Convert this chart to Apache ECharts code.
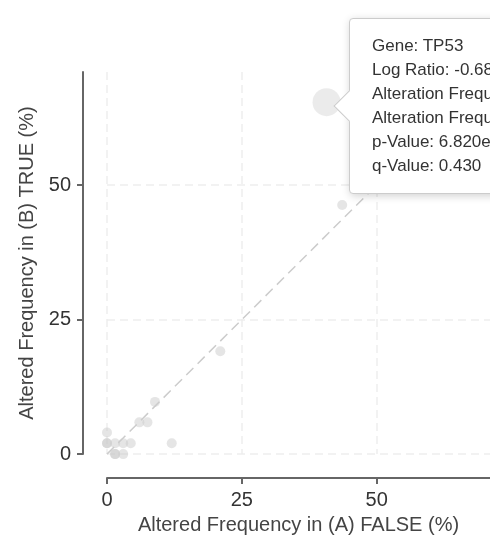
<!DOCTYPE html>
<html>
<head>
<meta charset="utf-8">
<script src="https://cdn.jsdelivr.net/npm/echarts@6/dist/echarts.min.js"></script>
<style>
html, body { margin: 0; padding: 0; overflow: hidden; background: #fff; }
#main { width: 490px; height: 540px; }
</style>
</head>
<body>
<div id="main"></div>
<script>
// Altered frequency (%) in group (A) FALSE and group (B) TRUE, one entry per gene point
const freqA = [40.7, 43.6, 21.0, 8.9, 6.0, 7.5, 0, 0, 0, 1.5, 3.0, 4.4, 12.0, 1.5, 1.5, 3.0];
const freqB = [65.4, 46.3, 19.1, 9.7, 5.9, 5.9, 4.0, 2.0, 2.0, 2.0, 2.0, 2.0, 2.0, 0, 0, 0];
const tickValues = [0, 25, 50];
const axisMax = 71;
const diagonal = [[0, 0], [axisMax, axisMax]];
// highlighted gene (tooltip shown)
const highlightIndex = 0;
const tooltipLines = [
  'Gene: TP53',
  'Log Ratio: -0.68',
  'Alteration Frequency in (A) FALSE: 40.68%',
  'Alteration Frequency in (B) TRUE: 65.22%',
  'p-Value: 6.820e-3',
  'q-Value: 0.430'
];

const FONT = 'Arial, "Liberation Sans", sans-serif';
const bigSize = 28, smallSize = 10;

const points = freqA.map((a, i) => ({
  value: [a, freqB[i]],
  symbolSize: i === highlightIndex ? bigSize : smallSize,
  itemStyle: { color: '#cccccc', opacity: i === highlightIndex ? 0.4 : 0.5 }
}));

function axisCommon(name, gap) {
  return {
    type: 'value', min: 0, max: axisMax,
    offset: 24,
    name: name, nameLocation: 'middle', nameGap: gap,
    nameTextStyle: { fontSize: 20, color: '#444', fontFamily: FONT },
    axisLine: { show: true, onZero: false, lineStyle: { color: '#666', width: 2 } },
    axisTick: { show: true, length: 6, customValues: tickValues, lineStyle: { color: '#666', width: 2 } },
    axisLabel: { customValues: tickValues, fontSize: 20, color: '#333', margin: 12, fontFamily: FONT },
    splitLine: { show: true, lineStyle: { color: '#eeeeee', type: [8, 5], width: 1.5 } }
  };
}

const chart = echarts.init(document.getElementById('main'), null, { renderer: 'canvas' });
chart.setOption({
  animation: false,
  grid: { left: 107, right: 0, top: 72, bottom: 85, containLabel: false },
  xAxis: axisCommon('Altered Frequency in (A) FALSE (%)', 3),
  yAxis: axisCommon('Altered Frequency in (B) TRUE (%)', 28),
  tooltip: {
    trigger: 'item',
    triggerOn: 'none',
    alwaysShowContent: true,
    confine: false,
    transitionDuration: 0,
    showDelay: 0,
    backgroundColor: '#fff',
    borderColor: '#cccccc',
    borderWidth: 1,
    borderRadius: 4,
    padding: [15, 22],
    textStyle: { fontSize: 17, color: '#333', fontFamily: FONT },
    extraCssText: 'white-space:nowrap;box-shadow:1px 2px 8px rgba(0,0,0,0.18);',
    position: function (point, params, dom, rect, size) {
      return [point[0] + bigSize / 2 + 8, point[1] - size.contentSize[1] / 2 + 4];
    },
    formatter: function () {
      const arrow = '<div style="position:absolute;left:-12px;top:50%;margin-top:-11px;width:22px;height:22px;background:#fff;border-left:1px solid #ccc;border-bottom:1px solid #ccc;transform:rotate(45deg);box-sizing:border-box;"></div>';
      return arrow + '<div style="position:relative;line-height:24px;">' + tooltipLines.join('<br/>') + '</div>';
    }
  },
  series: [
    {
      type: 'line', data: diagonal, silent: true, symbol: 'none', z: 1,
      tooltip: { show: false },
      lineStyle: { color: '#cccccc', type: [10, 6], width: 1.5 }
    },
    {
      type: 'scatter', data: points, z: 2,
      emphasis: { disabled: true }
    }
  ]
});
chart.dispatchAction({ type: 'showTip', seriesIndex: 1, dataIndex: highlightIndex });
</script>
</body>
</html>
